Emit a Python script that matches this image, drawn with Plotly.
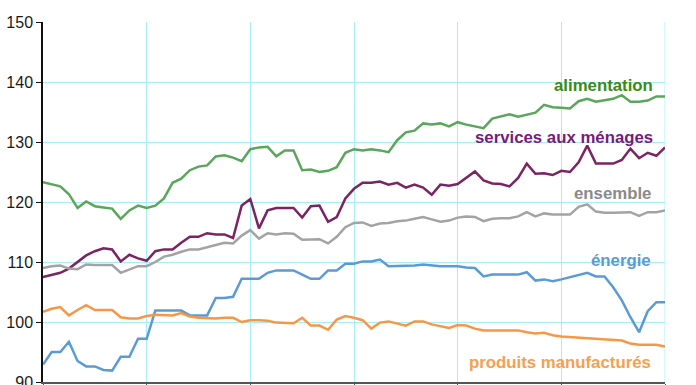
import plotly.graph_objects as go

months = list(range(73))

alimentation = [
    123.3, 123.0, 122.6, 121.3, 119.0, 120.1, 119.3, 119.1, 118.9, 117.2, 118.6, 119.4, 119.0,
    119.4, 120.6, 123.2, 123.9, 125.3, 125.9, 126.1, 127.6, 127.8, 127.4, 126.8, 128.8,
    129.1, 129.2, 127.6, 128.6, 128.6, 125.3, 125.4, 125.0, 125.2, 125.8, 128.2, 128.8,
    128.6, 128.8, 128.6, 128.3, 130.3, 131.6, 131.9, 133.1, 132.9, 133.1, 132.6, 133.3,
    132.9, 132.6, 132.3, 133.9, 134.2, 134.6, 134.2, 134.6, 134.9, 136.2, 135.8, 135.7,
    135.6, 136.8, 137.2, 136.7, 136.9, 137.2, 137.8, 136.7, 136.7, 136.9, 137.6, 137.6,
]
services = [
    107.5, 107.8, 108.2, 108.9, 110.0, 111.1, 111.8, 112.3, 112.1, 110.1, 111.2, 110.6, 110.2,
    111.8, 112.1, 112.1, 113.2, 114.2, 114.2, 114.8, 114.6, 114.6, 114.0, 119.4, 120.5,
    115.6, 118.6, 119.0, 119.0, 119.0, 117.4, 119.3, 119.4, 116.7, 117.5, 120.6, 122.2,
    123.2, 123.2, 123.4, 122.9, 123.2, 122.4, 122.9, 122.4, 121.2, 122.9, 122.7, 123.0,
    124.1, 125.1, 123.6, 123.1, 123.0, 122.6, 124.0, 126.4, 124.7, 124.8, 124.5, 125.2,
    125.0, 126.6, 129.4, 126.4, 126.4, 126.4, 127.0, 128.9, 127.3, 128.2, 127.7, 129.1,
]
ensemble = [
    109.0, 109.3, 109.4, 108.9, 108.8, 109.6, 109.5, 109.5, 109.5, 108.2, 108.8, 109.3, 109.3,
    110.0, 110.9, 111.2, 111.7, 112.1, 112.1, 112.5, 112.9, 113.2, 113.1, 114.4, 115.3,
    113.9, 114.8, 114.6, 114.8, 114.7, 113.7, 113.8, 113.8, 113.1, 114.2, 115.8, 116.5,
    116.6, 116.0, 116.4, 116.5, 116.8, 116.9, 117.2, 117.5, 117.1, 116.7, 116.9, 117.4,
    117.6, 117.5, 116.8, 117.2, 117.3, 117.3, 117.6, 118.3, 117.6, 118.1, 117.9, 117.9,
    117.9, 119.2, 119.6, 118.4, 118.2, 118.2, 118.3, 118.3, 117.7, 118.3, 118.3, 118.6,
]
energie = [
    92.9, 95.0, 95.0, 96.7, 93.5, 92.6, 92.6, 92.0, 91.9, 94.2, 94.2, 97.2, 97.2,
    101.9, 101.9, 101.9, 101.9, 101.1, 101.1, 101.1, 104.0, 104.0, 104.2, 107.2, 107.2,
    107.2, 108.2, 108.6, 108.6, 108.6, 107.9, 107.2, 107.2, 108.6, 108.6, 109.7, 109.7,
    110.1, 110.1, 110.4, 109.3, 109.3, 109.3, 109.4, 109.6, 109.4, 109.3, 109.3, 109.3,
    109.1, 109.0, 107.6, 107.9, 107.9, 107.9, 107.9, 108.3, 106.9, 107.1, 106.8, 107.1,
    107.5, 107.9, 108.2, 107.6, 107.6, 105.8, 103.6, 100.8, 98.3, 101.8, 103.3, 103.3,
]
produits = [
    101.7, 102.2, 102.5, 101.1, 102.0, 102.8, 102.0, 102.0, 102.0, 100.8, 100.6, 100.6, 101.0,
    101.2, 101.1, 101.1, 101.5, 100.9, 100.7, 100.6, 100.6, 100.7, 100.7, 100.0, 100.3,
    100.3, 100.2, 99.9, 99.8, 99.8, 100.7, 99.4, 99.4, 98.7, 100.4, 101.0, 100.7,
    100.3, 98.9, 99.9, 100.1, 99.8, 99.4, 100.1, 100.1, 99.6, 99.3, 99.0, 99.5,
    99.4, 98.9, 98.6, 98.6, 98.6, 98.6, 98.6, 98.3, 98.1, 98.2, 97.8, 97.6,
    97.5, 97.3, 97.3, 97.2, 97.1, 96.9, 96.9, 96.4, 96.2, 96.2, 96.2, 95.9,
]

series = [
    ("alimentation", alimentation, "#5aa65a", "#3a8a14", 70.8, 139.4),
    ("services aux ménages", services, "#7b2463", "#7a1a7a", 70.8, 130.8),
    ("ensemble", ensemble, "#a3a3a3", "#8a8a8a", 70.6, 121.4),
    ("énergie", energie, "#5b9bd5", "#5b9bd5", 70.6, 110.3),
    ("produits manufacturés", produits, "#f79646", "#f5a050", 70.6, 93.3),
]

y_ticks = [90, 100, 110, 120, 130, 140, 150]
x_ticks = [0, 12, 24, 36, 48, 60, 72]

fig = go.Figure()
annotations = []
for name, vals, lc, tc, ax, ay in series:
    fig.add_trace(go.Scatter(x=months, y=vals, mode="lines", name=name,
                             line=dict(color=lc, width=2.5), showlegend=False))
    annotations.append(dict(x=ax, y=ay, xref="x", yref="y", text="<b>" + name + "</b>",
                            showarrow=False, xanchor="right", yanchor="middle",
                            font=dict(family="Liberation Sans, Arial", size=16.8, color=tc)))

fig.update_layout(
    width=696, height=385,
    margin=dict(l=43, r=31, t=22, b=3, autoexpand=False),
    paper_bgcolor="white", plot_bgcolor="white",
    annotations=annotations,
    xaxis=dict(range=[0, 72], tickvals=x_ticks, showticklabels=False, automargin=False,
               showgrid=True, gridcolor="#a6eefa", gridwidth=1,
               ticks="outside", ticklen=4, tickcolor="#555555",
               showline=True, linecolor="#555555", linewidth=2, zeroline=False,
               mirror=False),
    yaxis=dict(range=[90, 150], tickvals=y_ticks, showgrid=True, automargin=False,
               gridcolor="#a6eefa", gridwidth=1, ticklabeloverflow="allow",
               ticks="outside", ticklen=5, tickcolor="#111111",
               showline=True, linecolor="#111111", linewidth=1.5, zeroline=False,
               tickfont=dict(family="Liberation Sans, Arial", size=16, color="#1a1a1a")),
)
fig.add_shape(type="line", xref="x", yref="paper", x0=72, x1=72, y0=0, y1=1,
              line=dict(color="#a6eefa", width=1), layer="below")

fig.write_html("out.html", config={"displayModeBar": False},
               post_script="document.body.style.margin='0';document.body.style.overflow='hidden';")
